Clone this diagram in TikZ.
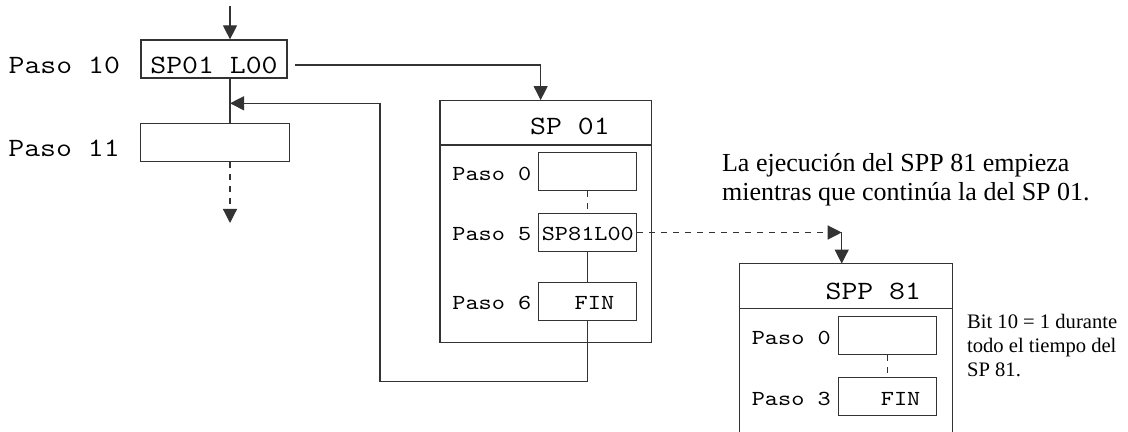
\documentclass[tikz,border=0pt]{standalone}
\usepackage{fontspec}
\setmainfont{Liberation Serif}
\setmonofont{Latin Modern Mono}[FakeStretch=1.17]
\usetikzlibrary{arrows.meta,positioning}

\tikzset{
  line/.style={draw=black!80, line width=0.6pt},
  flow/.style={line, -{Triangle[length=7pt,width=7pt]}},
  dashline/.style={line, dash pattern=on 3pt off 3pt},
  % outer steps of the main sequence
  bigstep/.style={line, rectangle, inner sep=0pt, minimum width=73pt, minimum height=19pt,
    font=\ttfamily\fontsize{13.2}{15}\selectfont, text height=14.3pt, text depth=0pt},
  biglbl/.style={inner sep=0pt, font=\ttfamily\fontsize{13.2}{15}\selectfont,
    text height=14.3pt, text depth=0pt},
  % steps inside a subprogram
  substep/.style={line, rectangle, inner sep=0pt, minimum width=49pt, minimum height=19pt,
    font=\ttfamily\fontsize{10.7}{12}\selectfont, text height=8.5pt, text depth=0pt},
  sublbl/.style={inner sep=0pt, font=\ttfamily\fontsize{10.7}{12}\selectfont,
    text height=8.5pt, text depth=0pt},
  frame/.style={rectangle, inner sep=0pt, minimum width=105.85pt},
  title/.style={inner sep=0pt, font=\ttfamily\fontsize{13.2}{15}\selectfont},
  note/.style={inner sep=0pt, align=left}
}

\begin{document}
\begin{tikzpicture}[x=0.5pt,y=-0.5pt]
  \useasboundingbox (0,0) rectangle (1128,432);

  % main sequence
  \node[bigstep] (p10) at (214,59) {SP01 L00};
  \node[bigstep, minimum width=74.3pt] (p11) at (215,142.5) {};
  \node[biglbl, left=10pt of p10] (l10) {Paso 10};
  \node[biglbl, left=10pt of p11] (l11) {Paso 11};

  \coordinate (in) at (230,6);
  \coordinate (out) at (230,223);
  \coordinate (join) at (230,103.3);
  \coordinate (back) at (380,381.7);
  \coordinate (call) at (295,65);

  % subprogram SP 01
  \node[frame, line, minimum height=120.8pt] (sp01) at (545.85,221.5) {};
  \draw[line] ([yshift=-22.5pt]sp01.north west) -- ([yshift=-22.5pt]sp01.north east);
  \node[title, anchor=base] (sp01t) at (570,135) {SP 01};
  \node[substep] (s0) at (587.85,171.85) {};
  \node[substep] (s5) at (587.85,232.5) {SP81L00};
  \node[substep] (s6) at (587.85,301.15) {~FIN};
  \node[sublbl, left=3.3pt of s0] (ls0) {Paso 0};
  \node[sublbl, left=3.3pt of s5] (ls5) {Paso 5};
  \node[sublbl, left=3.3pt of s6] (ls6) {Paso 6};

  % subprogram SPP 81, runs off the bottom
  \node[frame, minimum height=84pt] (spp81) at (845.85,348) {};
  \draw[line] (spp81.south west) |- (spp81.north east) -- (spp81.south east);
  \draw[line] ([yshift=-22.5pt]spp81.north west) -- ([yshift=-22.5pt]spp81.north east);
  \node[title, anchor=base] (spp81t) at (873.3,299.3) {SPP 81};
  \node[substep, minimum width=49.2pt] (q0) at (887.5,335.85) {};
  \node[substep, minimum width=49.2pt] (q3) at (887.5,396.5) {~~FIN};
  \node[sublbl, left=3.3pt of q0] (lq0) {Paso 0};
  \node[sublbl, left=3.3pt of q3] (lq3) {Paso 3};

  \coordinate (spawn) at (s5.east -| 841.7,0);

  % connections
  \draw[flow] (in) -- (in |- p10.north);
  \draw[line] (in |- p10.south) -- (in |- p11.north);
  \draw[flow, dashline] (in |- p11.south) -- (out);
  \draw[flow] (call) -| ([xshift=-2.6pt]sp01.north);
  \draw[flow] (s6.south) |- (back) |- (join);
  \draw[dashline] (s0) -- (s5);
  \draw[line] (s5) -- (s6);
  \draw[flow, dashline] (s5.east) -- (spawn);
  \draw[flow] (spawn) -- (spawn |- spp81.north);
  \draw[dashline] (q0) -- (q3);

  % remarks (base is the last line)
  \node[note, anchor=base west, font=\fontsize{13}{14.5}\selectfont] (n1) at (721.7,200.7)
    {La ejecución del SPP 81 empieza\\mientras que continúa la del SP 01.};
  \node[note, anchor=base west, font=\fontsize{10.3}{12}\selectfont] (n2) at (966.7,376)
    {Bit 10 = 1 durante\\todo el tiempo del\\SP 81.};
\end{tikzpicture}
\end{document}
